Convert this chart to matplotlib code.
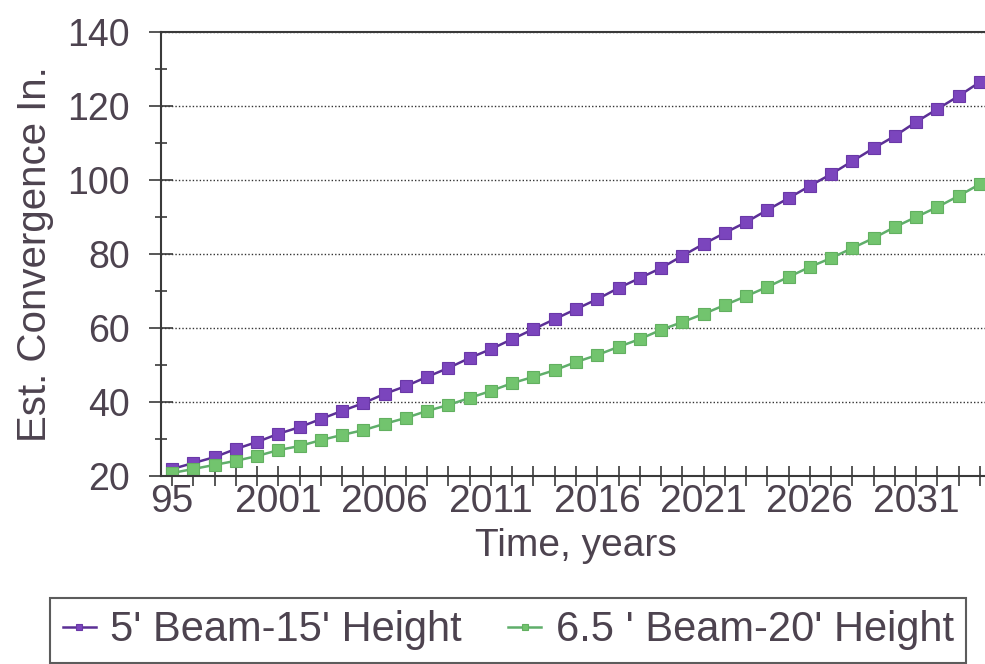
import matplotlib.pyplot as plt
from matplotlib.ticker import MultipleLocator

# years are plotted as category positions 0..38
positions = list(range(39))
tick_positions = [0, 5, 10, 15, 20, 25, 30, 35]
tick_labels = ["95", "2001", "2006", "2011", "2016", "2021", "2026", "2031"]

beam_5 = [21.9, 23.5, 25.1, 27.3, 29.2, 31.4, 33.2, 35.4, 37.6, 39.7,
          42.2, 44.3, 46.8, 49.2, 51.9, 54.3, 57.0, 59.7, 62.4, 65.1,
          67.8, 70.8, 73.5, 76.2, 79.5, 82.7, 85.7, 88.6, 91.9, 95.1,
          98.4, 101.6, 105.1, 108.6, 111.9, 115.7, 119.2, 122.7, 126.5]
beam_65 = [20.8, 21.9, 23.0, 24.1, 25.4, 27.0, 28.1, 29.7, 31.1, 32.4,
           34.1, 35.7, 37.6, 39.2, 41.1, 43.0, 45.1, 46.8, 48.6, 50.8,
           52.7, 54.9, 57.0, 59.5, 61.6, 63.8, 66.2, 68.6, 71.1, 73.8,
           76.5, 78.9, 81.6, 84.3, 87.3, 90.0, 92.7, 95.7, 98.9]

text_color = "#4d434f"
plt.rcParams["font.family"] = ["Liberation Sans", "DejaVu Sans"]

fig = plt.figure(figsize=(9.85, 6.64), dpi=100)
ax = fig.add_axes([161.4 / 985, 1 - 476 / 664, 829.2 / 985, 444 / 664])

ax.plot(positions, beam_5, color="#5b2f95", lw=1.8, marker="s", markersize=8.5,
        markerfacecolor="#7b45bd", markeredgecolor="#6a38a8", markeredgewidth=0.8,
        label="5' Beam-15' Height")
ax.plot(positions, beam_65, color="#5fae6a", lw=1.8, marker="s", markersize=8.5,
        markerfacecolor="#72c46e", markeredgecolor="#62b060", markeredgewidth=0.8,
        label="6.5 ' Beam-20' Height")

ax.set_xlim(-0.5, 38.5)
ax.set_ylim(20, 140)

ax.set_xticks(positions, minor=True)
ax.set_xticks(tick_positions)
ax.set_xticklabels(tick_labels)
ax.tick_params(axis="x", which="both", direction="inout", length=15, width=1.2,
               color="#3a3a3a", labelsize=28, labelcolor=text_color, pad=-2)
ax.yaxis.set_major_locator(MultipleLocator(20))
ax.yaxis.set_minor_locator(MultipleLocator(10))
ax.tick_params(axis="y", which="major", direction="inout", length=17, width=1.2,
               color="#3a3a3a", labelsize=27, labelcolor=text_color, pad=14)
ax.tick_params(axis="y", which="minor", direction="inout", length=9, width=1.2,
               color="#3a3a3a")

ax.grid(axis="y", which="major", linestyle=(0, (1, 1.5)), color="#333333", lw=1)
for s in ["left", "bottom", "top"]:
    ax.spines[s].set_color("#3a3a3a")
    ax.spines[s].set_linewidth(1.5)
ax.spines["right"].set_visible(False)

ax.set_xlabel("Time, years", fontsize=28, color=text_color, labelpad=6)
ax.set_ylabel("Est. Convergence In.", fontsize=29, color=text_color, labelpad=10)

leg = fig.legend(loc="upper left", bbox_to_anchor=(50 / 985, 1 - 598 / 664),
                 ncol=2, fontsize=30, frameon=True, fancybox=False,
                 borderaxespad=0, handlelength=0.8, handletextpad=0.35,
                 columnspacing=1.1, borderpad=0.3, markerscale=0.55,
                 labelcolor=text_color)
leg.get_frame().set_edgecolor("#333333")
leg.get_frame().set_linewidth(1.5)

fig.savefig("out.png", dpi=100)
